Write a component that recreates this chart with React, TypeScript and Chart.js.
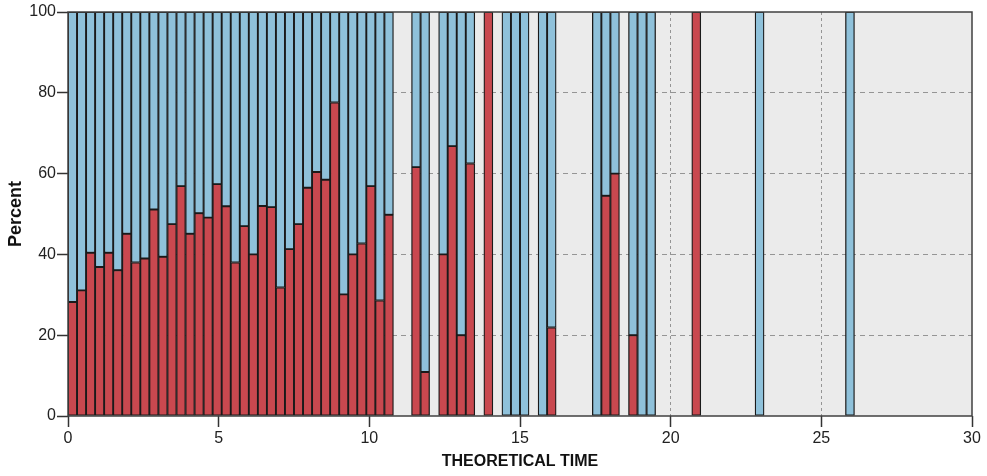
import React, { useEffect, useRef } from "react";
import { Chart, registerables } from "chart.js";

Chart.register(...registerables);

// Bin centres (bin width 0.3) on THEORETICAL TIME
const timeBins = [
  0.15, 0.45, 0.75, 1.05, 1.35, 1.65, 1.95, 2.25, 2.55, 2.85, 3.15, 3.45,
  3.75, 4.05, 4.35, 4.65, 4.95, 5.25, 5.55, 5.85, 6.15, 6.45, 6.75, 7.05,
  7.35, 7.65, 7.95, 8.25, 8.55, 8.85, 9.15, 9.45, 9.75, 10.05, 10.35, 10.65,
  11.55, 11.85, 12.45, 12.75, 13.05, 13.35, 13.95, 14.55, 14.85, 15.15,
  15.75, 16.05, 17.55, 17.85, 18.15, 18.75, 19.05, 19.35, 20.85, 22.95, 25.95,
];

// Percent of the red group in each bin
const redPercent = [
  28.2, 31.1, 40.4, 36.9, 40.4, 36.1, 45.1, 38.0, 39.0, 51.1, 39.4, 47.5,
  56.9, 45.1, 50.2, 49.1, 57.4, 51.9, 38.0, 47.0, 40.0, 52.0, 51.7, 31.8,
  41.3, 47.5, 56.5, 60.4, 58.5, 77.6, 30.1, 40.0, 42.7, 56.9, 28.6, 49.8,
  61.6, 10.9, 40.0, 66.8, 20.0, 62.5, 100, 0, 0, 0,
  0, 21.9, 0, 54.5, 60.0, 20.0, 0, 0, 100, 0, 0,
];

// Percent of the blue group in each bin
const bluePercent = [
  71.8, 68.9, 59.6, 63.1, 59.6, 63.9, 54.9, 62.0, 61.0, 48.9, 60.6, 52.5,
  43.1, 54.9, 49.8, 50.9, 42.6, 48.1, 62.0, 53.0, 60.0, 48.0, 48.3, 68.2,
  58.7, 52.5, 43.5, 39.6, 41.5, 22.4, 69.9, 60.0, 57.3, 43.1, 71.4, 50.2,
  38.4, 89.1, 60.0, 33.2, 80.0, 37.5, 0, 100, 100, 100,
  100, 78.1, 100, 45.5, 40.0, 80.0, 100, 100, 0, 100, 100,
];

const xTickValues = [0, 5, 10, 15, 20, 25, 30];
const yTickValues = [0, 20, 40, 60, 80, 100];

const FONT = "'Liberation Sans', Arial, Helvetica, sans-serif";

const plotBackground = {
  id: "plotBackground",
  beforeDraw(chart: any) {
    const { ctx, chartArea: a } = chart;
    ctx.save();
    ctx.fillStyle = "#ebebeb";
    ctx.fillRect(a.left, a.top, a.right - a.left, a.bottom - a.top);
    ctx.restore();
  },
};

const plotFrame = {
  id: "plotFrame",
  afterDatasetsDraw(chart: any) {
    const { ctx, chartArea: a } = chart;
    ctx.save();
    ctx.strokeStyle = "#404040";
    ctx.lineWidth = 1.5;
    ctx.strokeRect(a.left, a.top, a.right - a.left, a.bottom - a.top);
    ctx.restore();
  },
};

export default function App() {
  const canvasRef = useRef<HTMLCanvasElement | null>(null);

  useEffect(() => {
    if (!canvasRef.current) return;
    const toPoints = (vals: number[]) =>
      timeBins.map((x, i) => ({ x, y: vals[i] === 0 ? null : vals[i] }));

    const chart = new Chart(canvasRef.current, {
      type: "bar",
      data: {
        datasets: [
          {
            label: "Red",
            data: toPoints(redPercent) as any,
            backgroundColor: "#c9484f",
            borderColor: "#1a1a1a",
            borderWidth: 1.3,
            borderSkipped: false,
            barPercentage: 1,
            categoryPercentage: 1,
          },
          {
            label: "Blue",
            data: toPoints(bluePercent) as any,
            backgroundColor: "#8fc1da",
            borderColor: "#1a1a1a",
            borderWidth: 1.3,
            borderSkipped: false,
            barPercentage: 1,
            categoryPercentage: 1,
          },
        ],
      },
      options: {
        animation: false,
        responsive: false,
        events: [],
        layout: { padding: { top: 12, right: 15, left: 0, bottom: 0 } },
        plugins: {
          legend: { display: false },
          tooltip: { enabled: false },
        },
        scales: {
          x: {
            type: "linear",
            stacked: true,
            offset: false,
            min: 0,
            max: 30,
            afterBuildTicks: (scale: any) => {
              scale.ticks = xTickValues.map((v) => ({ value: v }));
            },
            afterFit: (scale: any) => {
              scale.height = 60;
            },
            ticks: {
              color: "#222",
              font: { family: FONT, size: 16 },
              padding: 2,
              maxRotation: 0,
              autoSkip: false,
            },
            grid: {
              offset: false,
              color: (ctx: any) =>
                ctx.tick && (ctx.tick.value === 0 || ctx.tick.value === 30)
                  ? "rgba(0,0,0,0)"
                  : "#959595",
              lineWidth: 1,
              tickColor: "#333",
              tickLength: 11,
              tickWidth: 1.5,
            },
            border: { display: false, dash: [3, 3] },
            title: {
              display: true,
              text: "THEORETICAL TIME",
              color: "#111",
              font: { family: FONT, size: 16, weight: "bold" },
              padding: { top: 2, bottom: 5 },
            },
          },
          y: {
            type: "linear",
            stacked: true,
            min: 0,
            max: 100,
            afterBuildTicks: (scale: any) => {
              scale.ticks = yTickValues.map((v) => ({ value: v }));
            },
            afterFit: (scale: any) => {
              scale.width = 68;
            },
            ticks: {
              color: "#222",
              font: { family: FONT, size: 16 },
              padding: 1,
            },
            grid: {
              color: (ctx: any) =>
                ctx.tick && (ctx.tick.value === 0 || ctx.tick.value === 100)
                  ? "rgba(0,0,0,0)"
                  : "#959595",
              lineWidth: 1,
              tickColor: "#333",
              tickLength: 11,
              tickWidth: 1.5,
            },
            border: { display: false, dash: [5, 4] },
            title: {
              display: true,
              text: "Percent",
              color: "#111",
              font: { family: FONT, size: 18, weight: "bold" },
              padding: { top: 5, bottom: 2 },
            },
          },
        },
      },
      plugins: [plotBackground, plotFrame],
    });

    return () => chart.destroy();
  }, []);

  return (
    <div style={{ position: "fixed", left: 0, top: 0, width: 987, height: 476 }}>
      <canvas ref={canvasRef} width={987} height={476} style={{ display: "block" }} />
    </div>
  );
}
